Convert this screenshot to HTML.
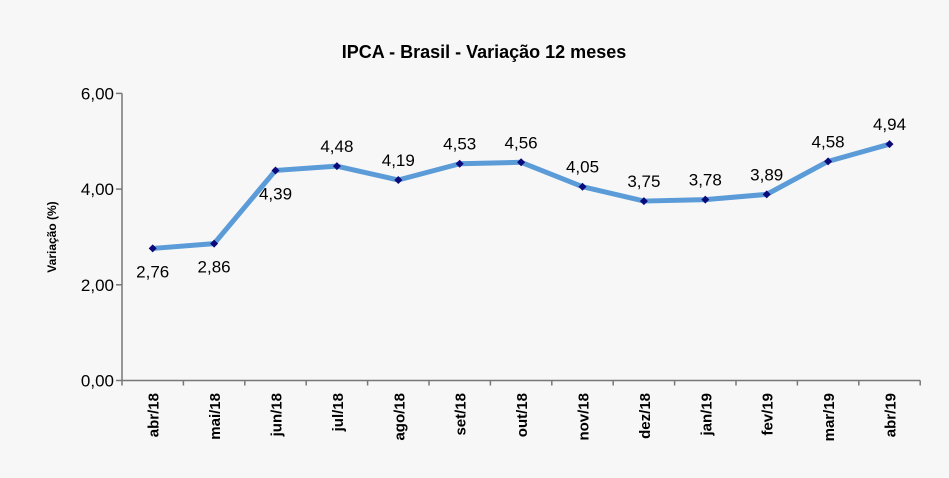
<!DOCTYPE html>
<html><head><meta charset="utf-8"><style>
html,body{margin:0;padding:0;background:#f7f7f7;}
svg{display:block;font-family:"Liberation Sans",Arial,sans-serif;}
</style></head><body>
<svg width="949" height="478">
<rect width="949" height="478" fill="#f7f7f7"/>
<text x="484" y="58" text-anchor="middle" font-size="18" font-weight="bold" fill="#000">IPCA - Brasil - Variação 12 meses</text>
<text transform="translate(56,237) rotate(-90)" text-anchor="middle" font-size="12" font-weight="bold" fill="#000">Variação (%)</text>
<g id="axes"></g>
<g id="marks"></g>
</svg>
<script>
const categories=["abr/18","mai/18","jun/18","jul/18","ago/18","set/18","out/18","nov/18","dez/18","jan/19","fev/19","mar/19","abr/19"];
const values=[2.76,2.86,4.39,4.48,4.19,4.53,4.56,4.05,3.75,3.78,3.89,4.58,4.94];
const labelBelow=[true,true,true,false,false,false,false,false,false,false,false,false,false];
const yTicks=[0,2,4,6];
const yTickLabels=["0,00","2,00","4,00","6,00"];
const NS="http://www.w3.org/2000/svg";
const x0=122,bw=61.4,y0=380.5,pu=47.85;
function xs(i){return x0+bw*(i+0.5);}
function ys(v){return y0-v*pu;}
function mk(t,a,p){const e=document.createElementNS(NS,t);for(const k in a)e.setAttribute(k,a[k]);p.appendChild(e);return e;}
const ax=document.getElementById('axes'),mg=document.getElementById('marks');
const yl=mk('line',{x1:x0,y1:ys(6),x2:x0,y2:y0,stroke:'#777','stroke-width':1.5},ax);


const xl=mk('line',{x1:x0,y1:y0,x2:x0+bw*categories.length,y2:y0,stroke:'#777','stroke-width':1.5},ax);


yTicks.forEach((v,i)=>{
 mk('line',{x1:x0-6,y1:ys(v),x2:x0,y2:ys(v),stroke:'#777','stroke-width':1.5},ax);
 const t=mk('text',{x:x0-8,y:ys(v)+6,'text-anchor':'end','font-size':17,fill:'#000'},ax);
 t.textContent=yTickLabels[i];
 
 
});
for(let i=0;i<=categories.length;i++){mk('line',{x1:x0+bw*i,y1:y0,x2:x0+bw*i,y2:y0+5,stroke:'#777','stroke-width':1.5},ax);}
categories.forEach((c,i)=>{
 const t=mk('text',{transform:`translate(${xs(i)+6},393) rotate(-90)`,'text-anchor':'end','font-size':15,'font-weight':'bold',fill:'#000'},ax);
 t.textContent=c;
 
 
});
const pts=values.map((v,i)=>xs(i)+','+ys(v)).join(' ');
const line=mk('polyline',{points:pts,fill:'none',stroke:'#5a9bd8','stroke-width':5,'stroke-linejoin':'round'},mg);


values.forEach((v,i)=>{
 const x=xs(i),y=ys(v);
 const d=mk('polygon',{points:`${x},${y-4} ${x+4},${y} ${x},${y+4} ${x-4},${y}`,fill:'#0a0a7a'},mg);
 
 
 const t=mk('text',{x:x,y:labelBelow[i]?y+29:y-14,'text-anchor':'middle','font-size':17,fill:'#000'},mg);
 t.textContent=v.toFixed(2).replace('.',',');
 
 
});
</script>
</body></html>
